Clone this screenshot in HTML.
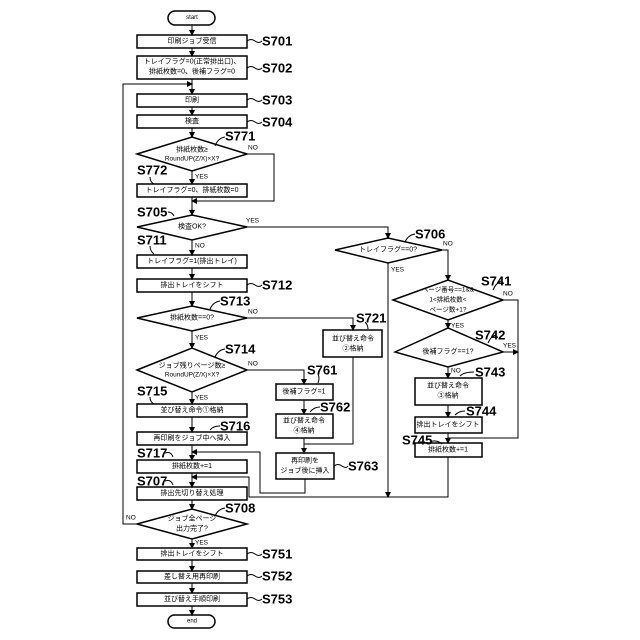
<!DOCTYPE html>
<html><head><meta charset="utf-8"><style>
body{margin:0;background:#fff}
svg{display:block}
.t{font-family:"Liberation Sans","Noto Sans CJK JP",sans-serif;font-size:7px;text-anchor:middle;dominant-baseline:central;fill:#000}
.y{font-family:"Liberation Sans",sans-serif;font-size:6.5px;fill:#000;dominant-baseline:central}
.l{font-family:"Liberation Sans",sans-serif;font-size:13px;font-weight:bold;fill:#000;dominant-baseline:central}
</style></head><body>
<svg width="640" height="640" viewBox="0 0 640 640">
<defs><marker id="a" markerWidth="6" markerHeight="6" refX="5" refY="3" orient="auto" markerUnits="userSpaceOnUse"><path d="M0,0 L6,3 L0,6 z" fill="#000"/></marker></defs>
<g fill="none" stroke="#000" stroke-width="1.5">
<rect x="168" y="11" width="47" height="14" rx="7"/>
<rect x="137" y="35" width="110" height="13"/>
<rect x="137" y="56" width="110" height="23"/>
<rect x="137" y="94" width="110" height="13"/>
<rect x="137" y="115" width="110" height="13"/>
<polygon points="137,154 192,137 247,154 192,171"/>
<rect x="137" y="184" width="110" height="13"/>
<polygon points="137,227 192,215 247,227 192,240"/>
<rect x="137" y="255" width="110" height="13"/>
<rect x="137" y="279" width="110" height="13"/>
<polygon points="137,318 192,306 247,318 192,331"/>
<polygon points="137,370 192,348 247,370 192,392"/>
<rect x="137" y="404" width="110" height="13"/>
<rect x="137" y="432" width="110" height="13"/>
<rect x="137" y="460" width="110" height="13"/>
<rect x="137" y="487" width="110" height="13"/>
<polygon points="137,524 192,509 247,524 192,539"/>
<rect x="137" y="548" width="110" height="12"/>
<rect x="137" y="571" width="110" height="12"/>
<rect x="137" y="593" width="110" height="13"/>
<rect x="168" y="615" width="47" height="13" rx="6.5"/>
<rect x="323" y="330" width="59" height="27"/>
<rect x="276" y="384" width="57" height="16"/>
<rect x="276" y="414" width="57" height="24"/>
<rect x="276" y="453" width="58" height="26"/>
<polygon points="335,250 388,238 442,250 388,263"/>
<polygon points="393,300 448,280 503,300 448,320"/>
<polygon points="395,352 448,328 503,352 448,367"/>
<rect x="415" y="378" width="67" height="27"/>
<rect x="415" y="417" width="67" height="16"/>
<rect x="415" y="443" width="67" height="14"/>
</g>
<g fill="none" stroke="#000" stroke-width="1">
<line x1="192" y1="25" x2="192" y2="35" marker-end="url(#a)"/>
<line x1="192" y1="48" x2="192" y2="56" marker-end="url(#a)"/>
<line x1="192" y1="79" x2="192" y2="94" marker-end="url(#a)"/>
<polyline points="137,524 123,524 123,84 192,84" marker-end="url(#a)"/>
<line x1="192" y1="107" x2="192" y2="115" marker-end="url(#a)"/>
<line x1="192" y1="128" x2="192" y2="137" marker-end="url(#a)"/>
<line x1="192" y1="171" x2="192" y2="184" marker-end="url(#a)"/>
<polyline points="247,154 274,154 274,201 192,201" marker-end="url(#a)"/>
<line x1="192" y1="197" x2="192" y2="215" marker-end="url(#a)"/>
<polyline points="247,227 388,227 388,238" marker-end="url(#a)"/>
<line x1="192" y1="240" x2="192" y2="255" marker-end="url(#a)"/>
<line x1="192" y1="268" x2="192" y2="279" marker-end="url(#a)"/>
<line x1="192" y1="292" x2="192" y2="306" marker-end="url(#a)"/>
<polyline points="247,318 353,318 353,330" marker-end="url(#a)"/>
<line x1="192" y1="331" x2="192" y2="348" marker-end="url(#a)"/>
<polyline points="247,370 304,370 304,384" marker-end="url(#a)"/>
<line x1="192" y1="392" x2="192" y2="404" marker-end="url(#a)"/>
<line x1="192" y1="417" x2="192" y2="432" marker-end="url(#a)"/>
<line x1="192" y1="445" x2="192" y2="460" marker-end="url(#a)"/>
<line x1="192" y1="473" x2="192" y2="487" marker-end="url(#a)"/>
<line x1="192" y1="500" x2="192" y2="509" marker-end="url(#a)"/>
<line x1="192" y1="539" x2="192" y2="548" marker-end="url(#a)"/>
<line x1="192" y1="560" x2="192" y2="571" marker-end="url(#a)"/>
<line x1="192" y1="583" x2="192" y2="593" marker-end="url(#a)"/>
<line x1="192" y1="606" x2="192" y2="615" marker-end="url(#a)"/>
<line x1="304" y1="400" x2="304" y2="414" marker-end="url(#a)"/>
<line x1="304" y1="438" x2="304" y2="453" marker-end="url(#a)"/>
<polyline points="353,357 353,444 304,444"/>
<polyline points="305,479 305,493 260,493 260,452 192,452" marker-end="url(#a)"/>
<polyline points="448,457 448,497 249,497 249,477 192,477" marker-end="url(#a)"/>
<line x1="388" y1="263" x2="388" y2="497" marker-end="url(#a)"/>
<polyline points="442,250 448,250 448,280" marker-end="url(#a)"/>
<polyline points="503,300 518,300 518,438 448,438"/>
<line x1="448" y1="320" x2="448" y2="328" marker-end="url(#a)"/>
<line x1="503" y1="352" x2="518" y2="352" marker-end="url(#a)"/>
<line x1="448" y1="367" x2="448" y2="378" marker-end="url(#a)"/>
<line x1="448" y1="405" x2="448" y2="417" marker-end="url(#a)"/>
<line x1="448" y1="433" x2="448" y2="443" marker-end="url(#a)"/>
<path d="M247,41 q4,-3 8,0 t7,0 M247,68 q4,-3 8,0 t7,0 M247,100 q4,-3 8,0 t7,0 M247,122 q4,-3 8,0 t7,0 M247,285 q4,-3 8,0 t7,0 M247,554 q4,-3 8,0 t7,0 M247,576 q4,-3 8,0 t7,0 M247,599 q4,-3 8,0 t7,0 M334,466 q4,-3 8,0 t6,0"/>
<path d="M215,146 q3,-8 10,-9 M150,177 q0,5 4,7 M168,212 q4,0 6,4 M150,246 q0,5 4,8 M210,309 q3,-7 10,-8 M215,357 q3,-7 10,-8 M150,397 q0,5 4,7 M210,430 q3,-4 10,-4 M165,453 q6,-2 8,4 M165,481 q6,-2 8,4 M215,516 q3,-7 10,-8 M365,322 q3,3 3,7 M318,374 q2,4 0,9 M310,412 q4,-5 10,-5 M405,242 q3,-7 10,-8 M493,290 q3,-7 8,-9 M488,343 q3,-7 8,-8 M460,376 q4,-4 14,-4 M455,415 q4,-4 10,-4 M430,442 q6,-3 12,2"/>
</g>
<g class="t">
<text x="192" y="18" font-size="6">start</text>
<text x="192" y="41.5">印刷ジョブ受信</text>
<text x="192" y="62">トレイフラグ=0(正常排出口)、</text>
<text x="192" y="72">排紙枚数=0、後補フラグ=0</text>
<text x="192" y="100.5">印刷</text>
<text x="192" y="121.5">検査</text>
<text x="192" y="150">排紙枚数≥</text>
<text x="192" y="159" font-size="6.5">RoundUP(Z/X)×X?</text>
<text x="192" y="190.5">トレイフラグ=0、排紙枚数=0</text>
<text x="192" y="227">検査OK?</text>
<text x="192" y="261.5">トレイフラグ=1(排出トレイ)</text>
<text x="192" y="285.5">排出トレイをシフト</text>
<text x="192" y="318">排紙枚数==0?</text>
<text x="192" y="366">ジョブ残りページ数≥</text>
<text x="192" y="375" font-size="6.5">RoundUP(Z/X)×X?</text>
<text x="192" y="410.5">並び替え命令①格納</text>
<text x="192" y="438.5">再印刷をジョブ中へ挿入</text>
<text x="192" y="466.5">排紙枚数+=1</text>
<text x="192" y="493.5">排出先切り替え処理</text>
<text x="192" y="519">ジョブ全ページ</text>
<text x="192" y="529">出力完了?</text>
<text x="192" y="554">排出トレイをシフト</text>
<text x="192" y="577">差し替え用再印刷</text>
<text x="192" y="599.5">並び替え手順印刷</text>
<text x="192" y="621.5" font-size="6">end</text>
<text x="353" y="339">並び替え命令</text>
<text x="353" y="349">②格納</text>
<text x="304" y="392">後補フラグ=1</text>
<text x="304" y="421">並び替え命令</text>
<text x="304" y="431">④格納</text>
<text x="305" y="461">再印刷を</text>
<text x="305" y="471">ジョブ後に挿入</text>
<text x="388" y="250">トレイフラグ==0?</text>
<text x="448" y="290" font-size="6.5">ページ番号==1&amp;&amp;</text>
<text x="448" y="300" font-size="6.5">1&lt;排紙枚数&lt;</text>
<text x="448" y="310" font-size="6.5">ページ数+1?</text>
<text x="448" y="352">後補フラグ==1?</text>
<text x="448" y="386">並び替え命令</text>
<text x="448" y="396">③格納</text>
<text x="448" y="425">排出トレイをシフト</text>
<text x="448" y="450">排紙枚数+=1</text>
</g>
<g class="y">
<text x="248" y="148">NO</text>
<text x="195" y="177">YES</text>
<text x="246" y="221">YES</text>
<text x="195" y="246">NO</text>
<text x="248" y="312">NO</text>
<text x="195" y="338">YES</text>
<text x="248" y="364">NO</text>
<text x="195" y="398">YES</text>
<text x="126" y="518">NO</text>
<text x="195" y="543">YES</text>
<text x="391" y="270">YES</text>
<text x="443" y="244">NO</text>
<text x="503" y="294">NO</text>
<text x="451" y="326">YES</text>
<text x="503" y="346">YES</text>
<text x="451" y="371">NO</text>
</g>
<g class="l">
<text x="262" y="41">S701</text>
<text x="262" y="68">S702</text>
<text x="262" y="100">S703</text>
<text x="262" y="122">S704</text>
<text x="225" y="136">S771</text>
<text x="137" y="170">S772</text>
<text x="137" y="212">S705</text>
<text x="137" y="240">S711</text>
<text x="262" y="285">S712</text>
<text x="220" y="301">S713</text>
<text x="225" y="349">S714</text>
<text x="137" y="391">S715</text>
<text x="220" y="426">S716</text>
<text x="137" y="453">S717</text>
<text x="137" y="481">S707</text>
<text x="225" y="508">S708</text>
<text x="262" y="554">S751</text>
<text x="262" y="576">S752</text>
<text x="262" y="599">S753</text>
<text x="356" y="318">S721</text>
<text x="307" y="370">S761</text>
<text x="320" y="407">S762</text>
<text x="348" y="466">S763</text>
<text x="415" y="234">S706</text>
<text x="481" y="281">S741</text>
<text x="475" y="335">S742</text>
<text x="475" y="372">S743</text>
<text x="466" y="411">S744</text>
<text x="402" y="440">S745</text>
</g>
</svg>
</body></html>
